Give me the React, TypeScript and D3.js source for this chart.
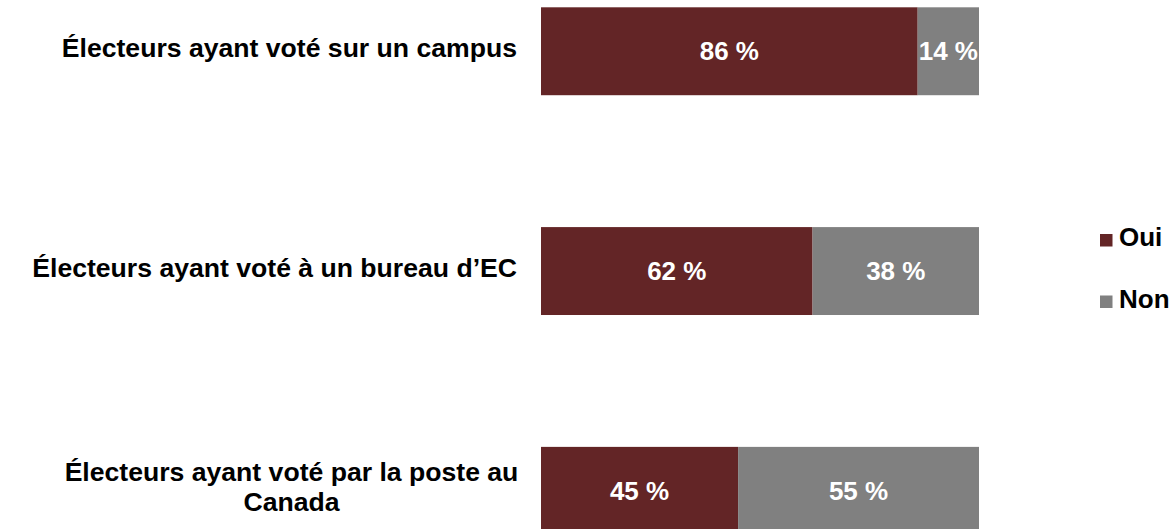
import React from "react";
import * as d3 from "d3";

const categories: string[][] = [
  ["Électeurs ayant voté sur un campus"],
  ["Électeurs ayant voté à un bureau d’EC"],
  ["Électeurs ayant voté par la poste au", "Canada"],
];
const oui: number[] = [86, 62, 45];
const non: number[] = [14, 38, 55];
const seriesNames = ["Oui", "Non"];
const colors = ["#632526", "#808080"];

const W = 1175;
const H = 529;
const FONT = "'Liberation Sans', Arial, sans-serif";

export default function App() {
  const keys = categories.map((c) => c.join(" "));
  const y = d3.scaleBand<string>().domain(keys).range([7.3, 534.8]).paddingInner(0.6).paddingOuter(0);
  const x = d3.scaleLinear().domain([0, 100]).range([541, 979]);
  const rows = keys.map((k, i) => ({ key: k, lines: categories[i], values: [oui[i], non[i]] }));

  return (
    <svg width={W} height={H} style={{ position: "absolute", left: 0, top: 0 }} fontFamily={FONT} fontWeight="bold">
      {rows.map((r) => {
        const y0 = y(r.key)!;
        const bw = y.bandwidth();
        const cy = y0 + bw / 2;
        let acc = 0;
        return (
          <g key={r.key}>
            {r.values.map((v, j) => {
              const start = acc;
              acc += v;
              const xa = x(start);
              const xb = x(start + v);
              return (
                <g key={j}>
                  <rect x={xa} y={y0} width={xb - xa} height={bw} fill={colors[j]} />
                  <text x={(xa + xb) / 2} y={cy + 9} textAnchor="middle" fill="#ffffff" fontSize={26}>
                    {`${v} %`}
                  </text>
                </g>
              );
            })}
            {r.lines.length === 1 ? (
              <text x={517} y={cy + 6} textAnchor="end" fontSize={26.6} fill="#000">
                {r.lines[0]}
              </text>
            ) : (
              r.lines.map((ln, k) => (
                <text key={k} x={291.5} y={cy - 10 + k * 30} textAnchor="middle" fontSize={26.6} fill="#000">
                  {ln}
                </text>
              ))
            )}
          </g>
        );
      })}
      {seriesNames.map((s, i) => (
        <g key={s} transform={`translate(1100, ${234 + i * 61.5})`}>
          <rect x={0} y={0} width={12.5} height={12.5} fill={colors[i]} />
          <text x={19} y={12.3} fontSize={26} fill="#000">
            {s}
          </text>
        </g>
      ))}
    </svg>
  );
}
